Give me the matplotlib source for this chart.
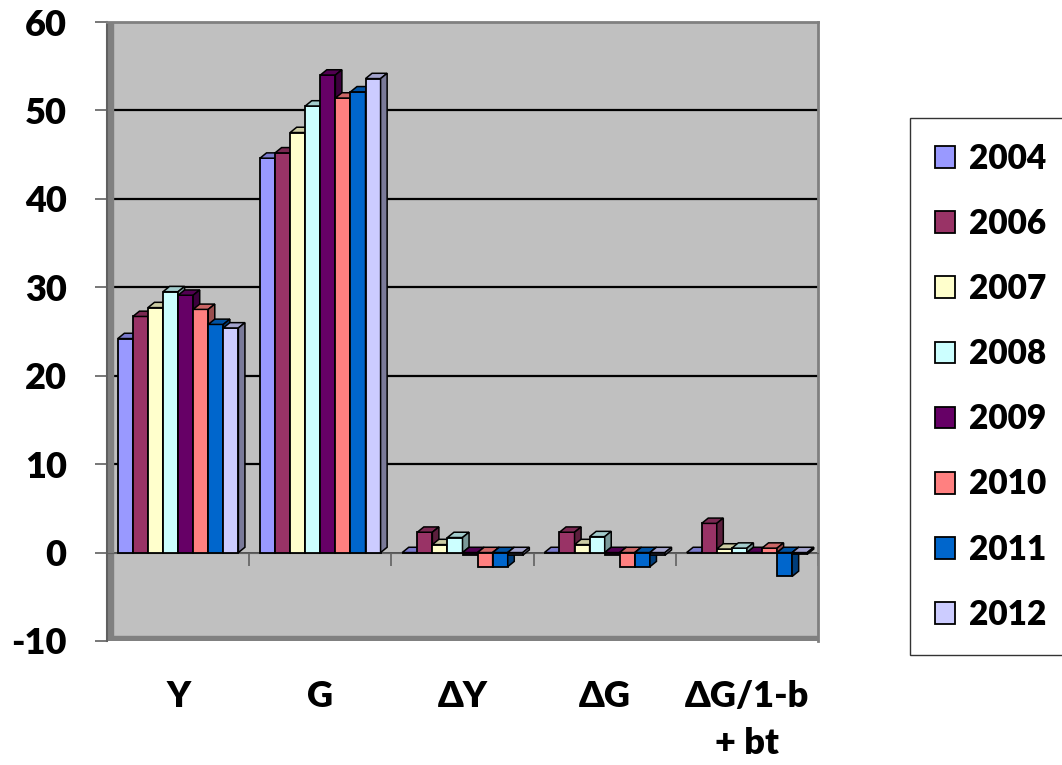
import matplotlib.pyplot as plt
from matplotlib.patches import Polygon, Rectangle
from matplotlib.colors import to_rgb
import numpy as np

plt.rcParams['font.family'] = ['Lato', 'DejaVu Sans']
plt.rcParams['font.weight'] = 'heavy'
plt.rcParams['axes.unicode_minus'] = False

categories = ['Y', 'G', 'ΔY', 'ΔG', 'ΔG/1-b\n+ bt']
years = ['2004', '2006', '2007', '2008', '2009', '2010', '2011', '2012']
# one list per year, values for the 5 categories
v2004 = [24.2, 44.6, 0.0, 0.0, 0.0]
v2006 = [26.7, 45.2, 2.3, 2.3, 3.3]
v2007 = [27.7, 47.5, 0.9, 0.9, 0.4]
v2008 = [29.5, 50.5, 1.7, 1.8, 0.5]
v2009 = [29.1, 54.0, -0.3, -0.3, -0.1]
v2010 = [27.5, 51.4, -1.6, -1.6, 0.5]
v2011 = [25.8, 52.1, -1.6, -1.6, -2.7]
v2012 = [25.4, 53.6, -0.3, -0.3, -0.2]
values = [v2004, v2006, v2007, v2008, v2009, v2010, v2011, v2012]
colors = ['#9999FF', '#993366', '#FFFFCC', '#CCFFFF',
          '#660066', '#FF8080', '#0066CC', '#CCCCFF']

fig = plt.figure(figsize=(10.62, 7.65), dpi=100)
ax = fig.add_axes([107/1062, 124/765, 711/1062, 619/765])
ax.set_facecolor('#C0C0C0')
ax.set_xlim(-0.5, 4.5)
ax.set_ylim(-10, 60)

# gridlines on the back wall
for g in [10, 20, 30, 40, 50]:
    ax.axhline(g, color='black', lw=1.6, zorder=1)
ax.axhline(0, color='#404040', lw=1.2, zorder=1)

# side wall and floor strips
ax.add_patch(Rectangle((0, 0), 0.008, 1, transform=ax.transAxes,
                       color='#808080', zorder=1))
ax.add_patch(Rectangle((0, 0), 1, 0.008, transform=ax.transAxes,
                       color='#808080', zorder=1))

x = np.arange(len(categories))
w = 0.106
dx, dy = 0.046, 0.6


def shade(c, f):
    r, g, b = to_rgb(c)
    return (r*f, g*f, b*f)


for i, (vals, c) in enumerate(zip(values, colors)):
    pos = x + (i - 3.5) * w
    ax.bar(pos, vals, width=w, color=c, edgecolor='black', lw=1.3,
           zorder=3, label=years[i])
    for p, h in zip(pos, vals):
        x0, x1 = p - w/2, p + w/2
        top = max(h, 0)
        bot = min(h, 0)
        ax.add_patch(Polygon([(x0, top), (x0+dx, top+dy), (x1+dx, top+dy), (x1, top)],
                             closed=True, fc=shade(c, 0.8), ec='black', lw=1.1, zorder=3))
        ax.add_patch(Polygon([(x1, bot), (x1, top), (x1+dx, top+dy), (x1+dx, bot+dy)],
                             closed=True, fc=shade(c, 0.6), ec='black', lw=1.1, zorder=3))

for s in ['top', 'right']:
    ax.spines[s].set_color('#808080')
    ax.spines[s].set_linewidth(2)
ax.spines['left'].set_color('#606060')
ax.spines['left'].set_linewidth(1.5)
ax.spines['bottom'].set_position(('data', 0))
ax.spines['bottom'].set_color('#606060')

ax.set_yticks(range(-10, 61, 10))
ax.tick_params(axis='y', direction='out', length=9, width=1.2, color='#606060',
               labelsize=26, pad=20)
ax.set_xticks(x)
ax.set_xticklabels(categories, fontsize=26, linespacing=1.5)
ax.set_xticks(np.arange(-0.5, 4.6, 1), minor=True)
ax.tick_params(axis='x', which='major', length=0, pad=92)
ax.tick_params(axis='x', which='minor', direction='out', length=9, width=1.2,
               color='#606060')

leg = ax.legend(loc='upper left', bbox_to_anchor=(910/1062, 1 - 118/765),
                bbox_transform=fig.transFigure, fontsize=24, frameon=True,
                fancybox=False, edgecolor='black', borderaxespad=0,
                labelspacing=0.995, handlelength=0.62, handleheight=0.62,
                handletextpad=0.4, borderpad=0.74)
leg.get_frame().set_linewidth(1.0)

fig.savefig('out.png', dpi=100)
